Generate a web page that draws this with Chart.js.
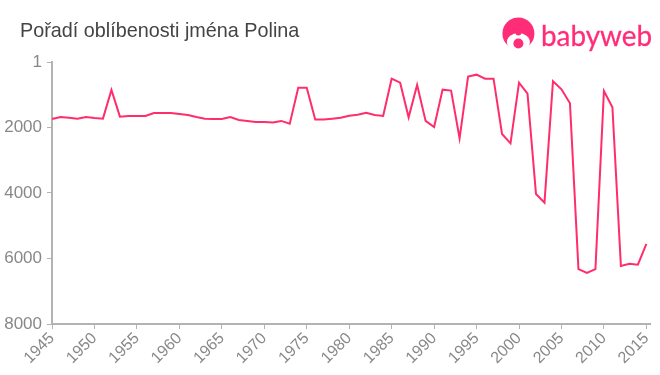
<!DOCTYPE html>
<html lang="cs">
<head>
    <meta charset="UTF-8">
    <title>Pořadí oblíbenosti jména Polina</title>
    <script src="https://cdn.jsdelivr.net/npm/chart.js"></script>
    <style>
        html, body { margin: 0; padding: 0; background: #fff; overflow: hidden; }
        #wrap { position: relative; width: 660px; height: 375px; }
        #title { position: absolute; left: 20px; top: 18px; font: 19.8px/24px 'Liberation Sans', sans-serif; color: #444; }
        #logo { position: absolute; left: 0; top: 0; }
    </style>
</head>
<body>
    <div id="wrap">
        <canvas id="rankChart" width="660" height="375"></canvas>
        <div id="title">Pořadí oblíbenosti jména Polina</div>
        <svg id="logo" width="660" height="60">
            <circle cx="518.4" cy="33.5" r="16" fill="#ff2d78"/>
            <ellipse cx="518.4" cy="42" rx="11.5" ry="9" fill="#fff"/>
            <path d="M508 50 L529 50 L535 42.5 L540 60 L497 60 L502 42.5 Z" fill="#fff"/>
            <circle cx="518.4" cy="32.5" r="3" fill="#ff2d78"/>
            <circle cx="518.4" cy="43.5" r="5" fill="#ff2d78"/>
            <text x="541" y="46" font-family="Lato" font-size="29" textLength="111" lengthAdjust="spacingAndGlyphs" fill="#ff2d78" stroke="#ff2d78" stroke-width="0.3">babyweb</text>
        </svg>
    </div>

    <script>
        const years = [1945, 1946, 1947, 1948, 1949, 1950, 1951, 1952, 1953, 1954, 1955, 1956, 1957, 1958, 1959, 1960, 1961, 1962, 1963, 1964, 1965, 1966, 1967, 1968, 1969, 1970, 1971, 1972, 1973, 1974, 1975, 1976, 1977, 1978, 1979, 1980, 1981, 1982, 1983, 1984, 1985, 1986, 1987, 1988, 1989, 1990, 1991, 1992, 1993, 1994, 1995, 1996, 1997, 1998, 1999, 2000, 2001, 2002, 2003, 2004, 2005, 2006, 2007, 2008, 2009, 2010, 2011, 2012, 2013, 2014, 2015];
        const ranks = [1740, 1680, 1700, 1730, 1680, 1710, 1730, 855, 1670, 1650, 1650, 1650, 1557, 1557, 1557, 1590, 1620, 1680, 1730, 1740, 1740, 1680, 1770, 1800, 1830, 1830, 1850, 1800, 1885, 785, 785, 1760, 1760, 1730, 1700, 1640, 1610, 1550, 1620, 1650, 510, 632, 1690, 702, 1800, 1985, 845, 875, 2330, 448, 388, 510, 510, 2200, 2484, 632, 968, 4031, 4295, 590, 835, 1262, 6322, 6443, 6322, 885, 1384, 6229, 6158, 6190, 5557];
        const yTicks = [1, 2000, 4000, 6000, 8000];
        const xTicks = [1945, 1950, 1955, 1960, 1965, 1970, 1975, 1980, 1985, 1990, 1995, 2000, 2005, 2010, 2015];

        const axisColor = '#b3b3b3';

        new Chart(document.getElementById('rankChart'), {
            type: 'line',
            data: {
                labels: years,
                datasets: [{
                    label: 'Pořadí',
                    data: years.map((y, i) => ({ x: y, y: ranks[i] })),
                    borderColor: '#ff2d6b',
                    borderWidth: 2,
                    pointRadius: 0,
                    tension: 0,
                    fill: false,
                    clip: false
                }]
            },
            options: {
                responsive: false,
                animation: false,
                layout: { padding: { left: 0, right: 7, top: 62, bottom: 0 } },
                plugins: {
                    legend: { display: false },
                    tooltip: { enabled: false }
                },
                scales: {
                    x: {
                        type: 'linear',
                        min: 1945,
                        max: 2015.45,
                        afterBuildTicks: axis => { axis.ticks = xTicks.map(v => ({ value: v })); },
                        afterFit: axis => { axis.height = 51; },
                        border: { color: axisColor, width: 2 },
                        grid: { drawOnChartArea: false, color: axisColor, tickLength: 5 },
                        ticks: {
                            color: '#888888',
                            font: { family: 'Liberation Sans', size: 16 },
                            minRotation: 45,
                            maxRotation: 45,
                            autoSkip: false,
                            padding: 0,
                            callback: v => String(v)
                        }
                    },
                    y: {
                        type: 'linear',
                        reverse: true,
                        min: 1,
                        max: 8000,
                        afterBuildTicks: axis => { axis.ticks = yTicks.map(v => ({ value: v })); },
                        afterFit: axis => { axis.width = 52; },
                        border: { color: axisColor, width: 2 },
                        grid: { drawOnChartArea: false, color: axisColor, tickLength: 5 },
                        ticks: {
                            color: '#888888',
                            font: { family: 'Liberation Sans', size: 17 },
                            autoSkip: false,
                            padding: 5,
                            callback: v => String(v)
                        }
                    }
                }
            }
        });
    </script>
</body>
</html>
